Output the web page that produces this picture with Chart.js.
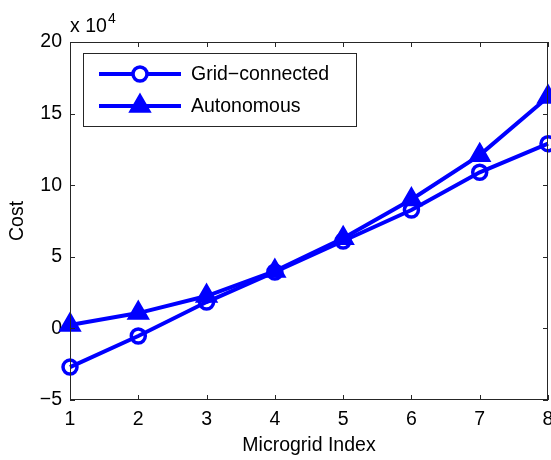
<!DOCTYPE html>
<html><head><meta charset="utf-8">
<script src="https://cdn.jsdelivr.net/npm/chart.js@4/dist/chart.umd.min.js"></script>
<style>html,body{margin:0;padding:0;background:#fff}#wrap{width:551px;height:460px}</style>
</head><body><div id="wrap"><canvas id="c" width="551" height="460"></canvas></div>
<script>
const categories = [1, 2, 3, 4, 5, 6, 7, 8];
const gridConnected = [-27000, -5300, 18400, 39400, 61000, 82700, 109000, 129000];
const autonomous = [2400, 10700, 22600, 40000, 63000, 90000, 121000, 161600];
const yTicks = [-50000, 0, 50000, 100000, 150000, 200000];
const seriesNames = ['Grid\u2212connected', 'Autonomous'];
const FONT = "'Liberation Sans', Arial, sans-serif";
const FS = 19.5;

function drawMarker(ctx, style, x, y, r) {
  ctx.beginPath();
  if (style === 'circle') {
    ctx.arc(x, y, r, 0, Math.PI * 2);
  } else {
    let a = 0;
    for (let i = 0; i < 3; i++) {
      const px = x + Math.sin(a) * r, py = y - Math.cos(a) * r;
      if (i === 0) ctx.moveTo(px, py); else ctx.lineTo(px, py);
      a += 2 * Math.PI / 3;
    }
    ctx.closePath();
  }
}

const framePlugin = {
  id: 'frame',
  afterDraw(chart) {
    const {ctx, chartArea: a, scales} = chart;
    ctx.save();
    ctx.strokeStyle = '#262626';
    ctx.lineWidth = 1;
    ctx.strokeRect(a.left + 0.5, a.top + 0.5, a.right - a.left - 1, a.bottom - a.top - 1);
    const tl = 5;
    ctx.beginPath();
    scales.x.ticks.forEach(t => {
      const x = Math.round(scales.x.getPixelForValue(t.value)) + 0.5;
      ctx.moveTo(x, a.bottom); ctx.lineTo(x, a.bottom - tl);
      ctx.moveTo(x, a.top); ctx.lineTo(x, a.top + tl);
    });
    scales.y.ticks.forEach(t => {
      const y = Math.round(scales.y.getPixelForValue(t.value)) + 0.5;
      ctx.moveTo(a.left, y); ctx.lineTo(a.left + tl, y);
      ctx.moveTo(a.right, y); ctx.lineTo(a.right - tl, y);
    });
    ctx.stroke();
    // exponent label
    ctx.fillStyle = '#000';
    ctx.font = FS + 'px ' + FONT;
    ctx.textBaseline = 'alphabetic';
    ctx.textAlign = 'left';
    ctx.fillText('x 10', a.left, a.top - 10);
    ctx.font = '14px ' + FONT;
    ctx.fillText('4', a.left + 38, a.top - 19);
    // legend
    const lx = 83, ly = 53, lw = 273, lh = 73;
    ctx.fillStyle = '#fff';
    ctx.fillRect(lx, ly, lw, lh);
    ctx.strokeStyle = '#262626';
    ctx.lineWidth = 1;
    ctx.strokeRect(lx + 0.5, ly + 0.5, lw, lh);
    const rows = [ly + 21, ly + 53];
    chart.data.datasets.forEach((ds, i) => {
      const y = rows[i];
      ctx.strokeStyle = ds.borderColor;
      ctx.lineWidth = ds.borderWidth;
      ctx.beginPath(); ctx.moveTo(99, y); ctx.lineTo(181, y); ctx.stroke();
      ctx.lineWidth = ds.pointBorderWidth;
      drawMarker(ctx, ds.pointStyle, 140, y, ds.pointRadius);
      ctx.fillStyle = ds.pointStyle === 'circle' ? '#fff' : ds.borderColor;
      ctx.fill(); ctx.stroke();
      ctx.fillStyle = '#000';
      ctx.font = FS + 'px ' + FONT;
      ctx.textBaseline = 'middle';
      ctx.fillText(ds.label, 191, y + 1);
    });
    ctx.restore();
  }
};

new Chart(document.getElementById('c'), {
  type: 'line',
  data: {
    labels: categories,
    datasets: [
      { label: seriesNames[0], data: gridConnected, borderColor: '#0000ff', backgroundColor: '#ffffff',
        borderWidth: 4, pointStyle: 'circle', pointRadius: 7, pointBorderWidth: 3.5, clip: false,
        pointBackgroundColor: 'rgba(255,255,255,0)', pointBorderColor: '#0000ff', tension: 0 },
      { label: seriesNames[1], data: autonomous, borderColor: '#0000ff', backgroundColor: '#0000ff',
        borderWidth: 4, pointStyle: 'triangle', pointRadius: 11, pointBorderWidth: 2.5, clip: false,
        pointBackgroundColor: '#0000ff', pointBorderColor: '#0000ff', tension: 0 }
    ]
  },
  options: {
    responsive: false, animation: false, devicePixelRatio: 1,
    layout: { autoPadding: false, padding: { left: 0, right: 3, top: 42, bottom: 0 } },
    plugins: { legend: { display: false }, tooltip: { enabled: false } },
    scales: {
      x: {
        type: 'linear', min: 1, max: 8,
        afterBuildTicks: s => { s.ticks = categories.map(v => ({ value: v })); },
        afterFit: s => { s.height = 60; s.paddingLeft = 0; s.paddingRight = 0; },
        grid: { display: false, drawTicks: false }, border: { display: false },
        ticks: { color: '#000', font: { family: FONT, size: FS }, padding: 8, maxRotation: 0 },
        title: { display: true, text: 'Microgrid Index', color: '#000', font: { family: FONT, size: FS }, padding: { top: 4, bottom: 3 } }
      },
      y: {
        min: -50000, max: 200000,
        afterBuildTicks: s => { s.ticks = yTicks.map(v => ({ value: v })); },
        afterFit: s => { s.width = 70; s.paddingTop = 0; s.paddingBottom = 0; },
        grid: { display: false, drawTicks: false }, border: { display: false },
        ticks: { color: '#000', font: { family: FONT, size: FS }, padding: 8,
                 callback: v => String(v / 10000).replace('-', '\u2212') },
        title: { display: true, text: 'Cost', color: '#000', font: { family: FONT, size: FS }, padding: { top: 6, bottom: 4 } }
      }
    }
  },
  plugins: [framePlugin]
});
</script></body></html>
